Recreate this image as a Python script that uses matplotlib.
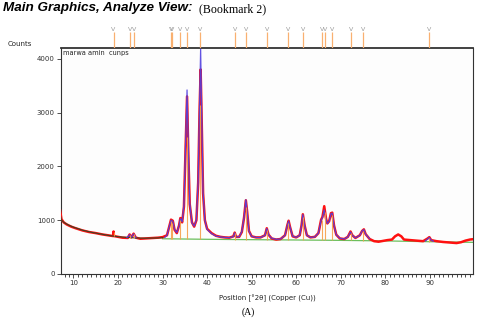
import numpy as np
import matplotlib
matplotlib.use("Agg")
import matplotlib.pyplot as plt
from matplotlib.ticker import MultipleLocator

# ---- data ----
obs_x = [7.0, 7.3, 7.8, 8.5, 9.5, 10.5, 12, 13.5, 15, 16.5, 18, 18.9, 19.0, 19.1, 20, 21, 22.2, 22.6, 23.0,
         23.5, 24.0, 25, 26, 27, 28, 29, 30, 31.0, 31.5, 31.9, 32.3, 32.7, 33.2, 33.7, 34.0, 34.4, 34.8,
         35.1, 35.5, 35.8, 36.1, 36.6, 37.1, 37.6, 38.0, 38.3, 38.55, 38.8, 39.1, 39.5, 40, 41, 42, 43, 44,
         45, 45.9, 46.2, 46.5, 47.2, 47.8, 48.3, 48.7, 49.0, 49.4, 50, 51, 52, 53.0, 53.4, 53.8, 54.5, 55.5,
         56.5, 57.5, 58.0, 58.3, 58.6, 59.2, 60.0, 60.8, 61.2, 61.5, 61.9, 62.4, 63.2, 64.2, 65.0, 65.6,
         65.9, 66.3, 66.7, 67.0, 67.4, 67.8, 68.1, 68.5, 69.0, 69.8, 70.8, 71.6, 72.2, 72.6, 73.3, 74.3,
         74.8, 75.2, 75.6, 76.5, 77.5, 78.5, 79.5, 80.5, 81.5, 82.2, 82.9, 83.6, 84.2, 85.5, 87, 88.5, 89.5,
         89.9, 90.3, 91.5, 93, 94.5, 96, 97, 98, 99, 100]
obs_y = [1180, 1020, 960, 920, 880, 850, 810, 780, 760, 735, 715, 705, 790, 705, 690, 675, 670, 735, 680,
         750, 675, 655, 660, 665, 670, 675, 685, 720, 880, 1010, 990, 820, 760, 900, 1040, 960, 1250,
         2100, 3300, 2200, 1300, 960, 880, 1000, 1700, 3000, 3800, 2800, 1500, 1000, 840, 760, 710, 690, 680,
         675, 700, 770, 690, 690, 780, 1050, 1370, 1150, 800, 700, 680, 680, 720, 850, 730, 660, 640,
         650, 720, 900, 990, 880, 700, 680, 720, 900, 1110, 900, 720, 680, 690, 760, 1010,
         1060, 1260, 1030, 940, 980, 1130, 1140, 900, 730, 660, 650, 690, 790, 720, 670, 720,
         800, 830, 740, 650, 610, 600, 615, 630, 640, 700, 735, 700, 640, 630, 620, 610, 660,
         685, 630, 610, 595, 585, 575, 590, 620, 640, 650]

calc_x = [22.0, 22.6, 23.0, 23.5, 24.0, np.nan,
          30.5, 31.0, 31.5, 31.9, 32.3, 32.7, 33.2, 33.7, 34.0, 34.4, 34.8, 35.1, 35.5, 35.8, 36.1, 36.6,
          37.1, 37.6, 38.0, 38.3, 38.55, 38.8, 39.1, 39.5, 40, 41, 42, 43, 44, 45, 45.9, 46.2, 46.5, 47.2,
          47.8, 48.3, 48.7, 49.0, 49.4, 50, 51, 52, 53.0, 53.4, 53.8, 54.5, 55.5, 56.5, 57.5, 58.0, 58.3,
          58.6, 59.2, 60.0, 60.8, 61.2, 61.5, 61.9, 62.4, 63.2, 64.2, 65.0, 65.6, 65.9, 66.3, 66.7, 67.0,
          67.4, 67.8, 68.1, 68.5, 69.0, 69.8, 70.8, 71.6, 72.2, 72.6, 73.3, 74.3, 74.8, 75.2, 75.6, 76.5,
          np.nan, 89.0, 89.5, 89.9, 90.3, 90.8]
calc_y = [675, 730, 685, 745, 675, np.nan,
          680, 720, 880, 1000, 980, 830, 770, 900, 1030, 970, 1280,
          2200, 3420, 2300, 1320, 950, 890, 1010, 1750, 3100, 4180, 2900, 1520, 1000, 830, 750, 705, 690,
          680, 675, 695, 765, 690, 690, 790, 1060, 1380, 1150, 800, 700, 680, 678, 720, 845, 730, 665, 645,
          650, 720, 900, 985, 880, 705, 680, 720, 905, 1105, 900, 720, 680, 690, 760, 1000, 1050, 1190,
          1020, 940, 980, 1120, 1130, 900, 730, 665, 650, 690, 780, 720, 670, 720, 800, 825, 740, 655,
          np.nan, 615, 650, 680, 630, 610]

dark_x = [7.0, 7.3, 8, 9, 10, 12, 14, 16, 18, 20, 22, 24, 26, 28, 30]
dark_y = [1120, 1000, 950, 905, 870, 815, 775, 745, 715, 693, 680, 670, 665, 668, 675]

bg_x = [30, 40, 50, 60, 70, 80, 90, 100]
bg_y = [655, 645, 638, 632, 625, 615, 600, 588]

stick_pos = [19.0, 22.6, 23.5, 31.9, 32.2, 34.0, 35.4, 38.5, 46.2, 48.7, 53.4, 58.2, 61.5, 65.8, 66.4,
             68.1, 72.3, 75.1, 89.9]
stick_top = [780, 730, 750, 980, 950, 1000, 2550, 3150, 760, 1250, 820, 950, 1060, 1000, 1150,
             1090, 760, 800, 670]
stick_base = [700, 675, 670, 650, 650, 650, 650, 645, 640, 640, 636, 633, 632, 628, 628,
              627, 624, 620, 600]

sample_label = "marwa amin  cunps"
xlabel = "Position [°2θ] (Copper (Cu))"
yticks = [0, 1000, 2000, 3000, 4000]
xticks = [10, 20, 30, 40, 50, 60, 70, 80, 90]

# ---- figure ----
fig = plt.figure(figsize=(4.8, 3.2), dpi=100)
L, R, B, T = 61/480, 473/480, 1-274/320, 1-48/320
ax = fig.add_axes([L, B, R-L, T-B])
ax.set_facecolor("#fdfdfd")

ax.plot(bg_x, bg_y, color="#6cbf5c", lw=0.9, zorder=2)
ax.plot(obs_x, obs_y, color="#ff1010", lw=1.8, zorder=3)
ax.plot(dark_x, dark_y, color="#3c4424", lw=0.8, zorder=4)
ax.plot(calc_x, calc_y, color="#5140e0", lw=0.9, zorder=5, alpha=0.9)
ax.vlines(stick_pos, stick_base, stick_top, color="#f7a04a", lw=0.8, zorder=6, alpha=0.9)

ax.set_xlim(7.2, 99.7)
ax.set_ylim(0, 4200)
ax.set_yticks(yticks)
ax.set_xticks(xticks)
ax.xaxis.set_minor_locator(MultipleLocator(1))
ax.tick_params(axis="both", labelsize=5, length=3, width=0.6, pad=1.5, colors="#333333")
ax.tick_params(axis="x", which="minor", length=2, width=0.5)
for s in ax.spines.values():
    s.set_color("#333333")
    s.set_linewidth(0.8)
ax.spines["top"].set_linewidth(1.3)

ax.text(0.006, 0.992, sample_label, transform=ax.transAxes, fontsize=4.8, va="top", ha="left",
        color="#222222")
ax.set_xlabel(xlabel, fontsize=5, labelpad=6, color="#222222")

# ---- reference peak strip ----
sx = fig.add_axes([L, T, R-L, 22/320])
sx.set_xlim(7.2, 99.7)
sx.set_ylim(0, 1)
sx.axis("off")
sx.vlines(stick_pos, 0, 0.72, color="#f9b070", lw=0.9)
for p in stick_pos:
    sx.text(p, 0.72, "V", fontsize=4.5, color="#9a9a9a", ha="center", va="bottom")

# ---- titles ----
fig.text(3/480, 1-2/320, "Main Graphics, Analyze View:", fontsize=9.7, fontweight="bold",
         fontstyle="italic", family="Liberation Sans", va="top", ha="left")
fig.text(199/480, 1-3/320, "(Bookmark 2)", fontsize=8.6, family="Liberation Serif", va="top", ha="left")
fig.text(8/480, 1-44/320, "Counts", fontsize=5, va="center", ha="left", color="#222222")
fig.text(248/480, 1-312/320, "(A)", fontsize=7, family="Liberation Serif", va="center", ha="center")

fig.savefig("out.png", dpi=100)
